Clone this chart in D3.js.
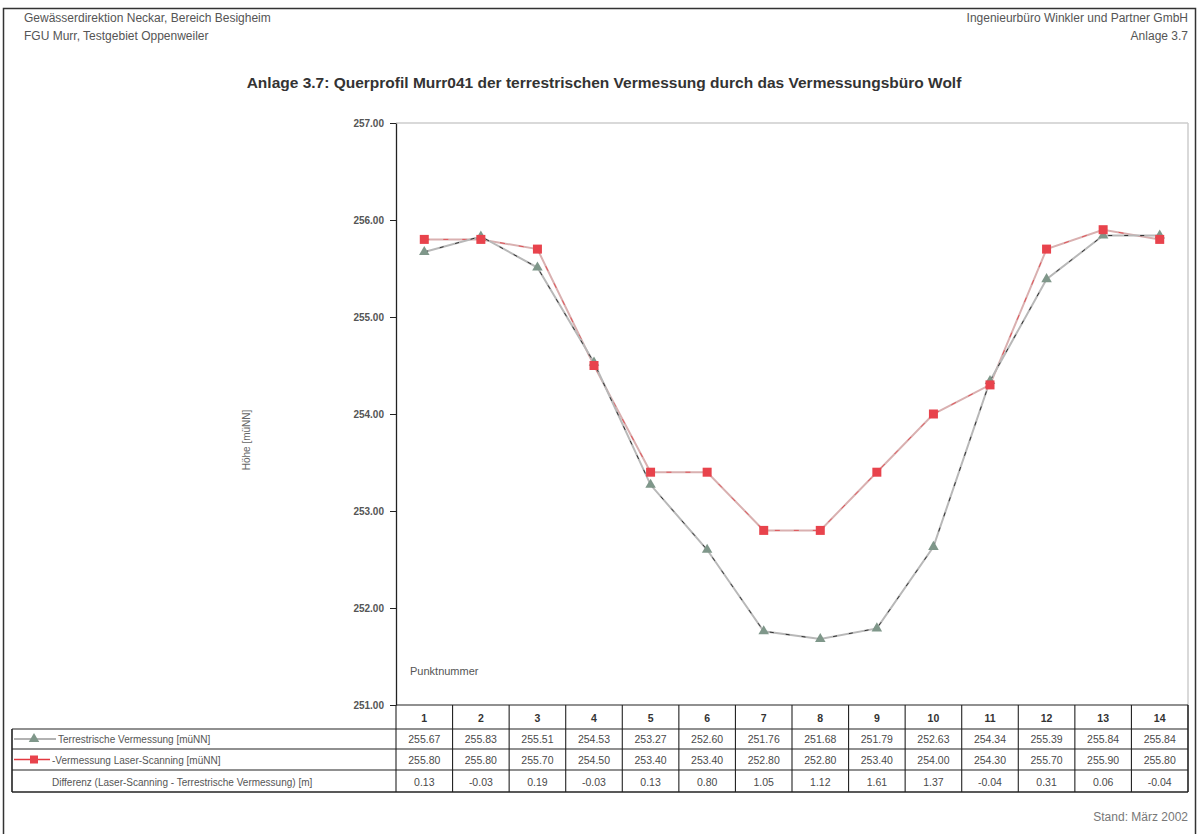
<!DOCTYPE html>
<html>
<head>
<meta charset="utf-8">
<script src="https://cdn.jsdelivr.net/npm/d3@7"></script>
<style>
  html, body { margin: 0; padding: 0; background: #fff; }
  svg { display: block; font-family: "Liberation Sans", Arial, sans-serif; }
</style>
</head>
<body>
<svg id="chart" width="1198" height="834"></svg>
<script>
// Querprofil Murr041: Punktnummern und Höhen
const points = [1, 2, 3, 4, 5, 6, 7, 8, 9, 10, 11, 12, 13, 14];
const terrestrisch = [255.67, 255.83, 255.51, 254.53, 253.27, 252.60, 251.76, 251.68, 251.79, 252.63, 254.34, 255.39, 255.84, 255.84];
const laser = [255.80, 255.80, 255.70, 254.50, 253.40, 253.40, 252.80, 252.80, 253.40, 254.00, 254.30, 255.70, 255.90, 255.80];
const differenz = [0.13, -0.03, 0.19, -0.03, 0.13, 0.80, 1.05, 1.12, 1.61, 1.37, -0.04, 0.31, 0.06, -0.04];
const yTicks = [251, 252, 253, 254, 255, 256, 257];
const rowLabels = [
  "Terrestrische Vermessung [müNN]",
  "Vermessung Laser-Scanning [müNN]",
  "Differenz (Laser-Scanning - Terrestrische Vermessung) [m]"
];

const svg = d3.select("#chart");
const plot = { left: 396, right: 1188, top: 123, bottom: 705 };
const textGray = "#555";

// Page frame
svg.append("rect").attr("x", 3.5).attr("y", 8.5).attr("width", 1192).attr("height", 830)
  .attr("fill", "none").attr("stroke", "#333").attr("stroke-width", 1.5);

// Header texts
const hdr = svg.append("g").attr("font-size", 12).attr("fill", textGray);
hdr.append("text").attr("x", 24).attr("y", 22).text("Gewässerdirektion Neckar, Bereich Besigheim");
hdr.append("text").attr("x", 24).attr("y", 40).text("FGU Murr, Testgebiet Oppenweiler");
hdr.append("text").attr("x", 1188).attr("y", 22).attr("text-anchor", "end").text("Ingenieurbüro Winkler und Partner GmbH");
hdr.append("text").attr("x", 1188).attr("y", 40).attr("text-anchor", "end").text("Anlage 3.7");

svg.append("text").attr("x", 604).attr("y", 88).attr("text-anchor", "middle")
  .attr("font-size", 15.5).attr("font-weight", "bold").attr("fill", "#333")
  .text("Anlage 3.7: Querprofil Murr041 der terrestrischen Vermessung durch das Vermessungsbüro Wolf");

svg.append("text").attr("x", 1188).attr("y", 821).attr("text-anchor", "end")
  .attr("font-size", 12).attr("fill", "#777").text("Stand: März 2002");

// Scales
const x = d3.scaleBand().domain(points).range([plot.left, plot.right]).padding(0);
const y = d3.scaleLinear().domain([251, 257]).range([plot.bottom, plot.top]);
const cx = d => x(d) + x.bandwidth() / 2;

// Plot frame (light)
svg.append("line").attr("x1", plot.left).attr("x2", plot.right).attr("y1", plot.top).attr("y2", plot.top)
  .attr("stroke", "#ccc").attr("stroke-width", 1.5);
svg.append("line").attr("x1", plot.right).attr("x2", plot.right).attr("y1", plot.top).attr("y2", plot.bottom)
  .attr("stroke", "#ccc").attr("stroke-width", 1.5);

// Y axis
const yAxis = svg.append("g").attr("transform", `translate(${plot.left},0)`)
  .call(d3.axisLeft(y).tickValues(yTicks).tickFormat(d3.format(".2f")).tickSize(6).tickSizeOuter(0));
yAxis.select(".domain").attr("stroke", "#222").attr("stroke-width", 1.3);
yAxis.selectAll(".tick line").attr("stroke", "#222");
yAxis.selectAll(".tick text").attr("font-size", 10).attr("font-weight", "bold").attr("fill", "#555")
  .attr("font-family", "'Liberation Sans', Arial, sans-serif").attr("dx", -3);

svg.append("text").attr("transform", "translate(250,440) rotate(-90)").attr("text-anchor", "middle")
  .attr("font-size", 10).attr("fill", "#666").text("Höhe [müNN]");

svg.append("text").attr("x", 410).attr("y", 675).attr("font-size", 11).attr("fill", "#555")
  .text("Punktnummer");

// Lines
const line = d3.line().x((d, i) => cx(points[i])).y(d => y(d));
svg.append("path").datum(laser).attr("d", line).attr("fill", "none")
  .attr("stroke", "#d9b0b0").attr("stroke-width", 2);
svg.append("path").datum(laser).attr("d", line).attr("fill", "none")
  .attr("stroke", "#e23a40").attr("stroke-width", 0.8).attr("stroke-dasharray", "5,14");
svg.append("path").datum(terrestrisch).attr("d", line).attr("fill", "none")
  .attr("stroke", "#b8b8b8").attr("stroke-width", 2);
svg.append("path").datum(terrestrisch).attr("d", line).attr("fill", "none")
  .attr("stroke", "#222").attr("stroke-width", 0.9).attr("stroke-dasharray", "4,12");

// Markers
const tri = d3.symbol().type(d3.symbolTriangle).size(48);
svg.append("g").selectAll("path").data(terrestrisch).join("path")
  .attr("d", tri).attr("transform", (d, i) => `translate(${cx(points[i])},${y(d)})`)
  .attr("fill", "#7f978a");
svg.append("g").selectAll("rect").data(laser).join("rect")
  .attr("x", (d, i) => cx(points[i]) - 4.5).attr("y", d => y(d) - 4.5)
  .attr("width", 9).attr("height", 9).attr("fill", "#e8434c");

// Data table
const rowTops = [705, 729, 749, 770, 792];
const tableLeft = 12;
const tbl = svg.append("g");
// header row (point numbers)
points.forEach(p => {
  tbl.append("text").attr("x", cx(p)).attr("y", rowTops[1] - 7).attr("text-anchor", "middle")
    .attr("font-size", 10.5).attr("font-weight", "bold").attr("fill", "#333").text(p);
});
const rowsData = [terrestrisch, laser, differenz];
rowsData.forEach((vals, r) => {
  vals.forEach((v, i) => {
    tbl.append("text").attr("x", cx(points[i])).attr("y", rowTops[r + 2] - 6).attr("text-anchor", "middle")
      .attr("font-size", 10.5).attr("fill", "#4a4a4a").text(v.toFixed(2));
  });
});
// row labels
tbl.append("text").attr("x", 58).attr("y", rowTops[2] - 6).attr("font-size", 10).attr("fill", "#555").text(rowLabels[0]);
tbl.append("text").attr("x", 52).attr("y", rowTops[3] - 6).attr("font-size", 10).attr("fill", "#555").text("-" + rowLabels[1]);
tbl.append("text").attr("x", 52).attr("y", rowTops[4] - 6).attr("font-size", 10).attr("fill", "#555").text(rowLabels[2]);
// legend keys
const ky1 = (rowTops[1] + rowTops[2]) / 2, ky2 = (rowTops[2] + rowTops[3]) / 2;
tbl.append("line").attr("x1", 14).attr("x2", 56).attr("y1", ky1).attr("y2", ky1).attr("stroke", "#999").attr("stroke-width", 1.5);
tbl.append("path").attr("d", tri).attr("transform", `translate(34,${ky1})`).attr("fill", "#7f978a");
tbl.append("line").attr("x1", 14).attr("x2", 50).attr("y1", ky2).attr("y2", ky2).attr("stroke", "#e23a40").attr("stroke-width", 1.5);
tbl.append("rect").attr("x", 30).attr("y", ky2 - 4).attr("width", 8).attr("height", 8).attr("fill", "#e8434c");

// grid lines
const gl = tbl.append("g").attr("stroke", "#222").attr("stroke-width", 1.1);
gl.append("line").attr("x1", plot.left).attr("x2", plot.right).attr("y1", rowTops[0]).attr("y2", rowTops[0]);
[1, 2, 3].forEach(k => gl.append("line").attr("x1", tableLeft).attr("x2", plot.right).attr("y1", rowTops[k]).attr("y2", rowTops[k]));
gl.append("line").attr("x1", tableLeft).attr("x2", plot.right).attr("y1", rowTops[4]).attr("y2", rowTops[4]).attr("stroke-width", 1.6);
gl.append("line").attr("x1", tableLeft).attr("x2", tableLeft).attr("y1", rowTops[1]).attr("y2", rowTops[4]).attr("stroke-width", 1.6);
points.forEach(p => {
  gl.append("line").attr("x1", x(p)).attr("x2", x(p)).attr("y1", rowTops[0]).attr("y2", rowTops[4]);
});
gl.append("line").attr("x1", plot.right).attr("x2", plot.right).attr("y1", rowTops[0]).attr("y2", rowTops[4]).attr("stroke-width", 1.6);
</script>
</body>
</html>
